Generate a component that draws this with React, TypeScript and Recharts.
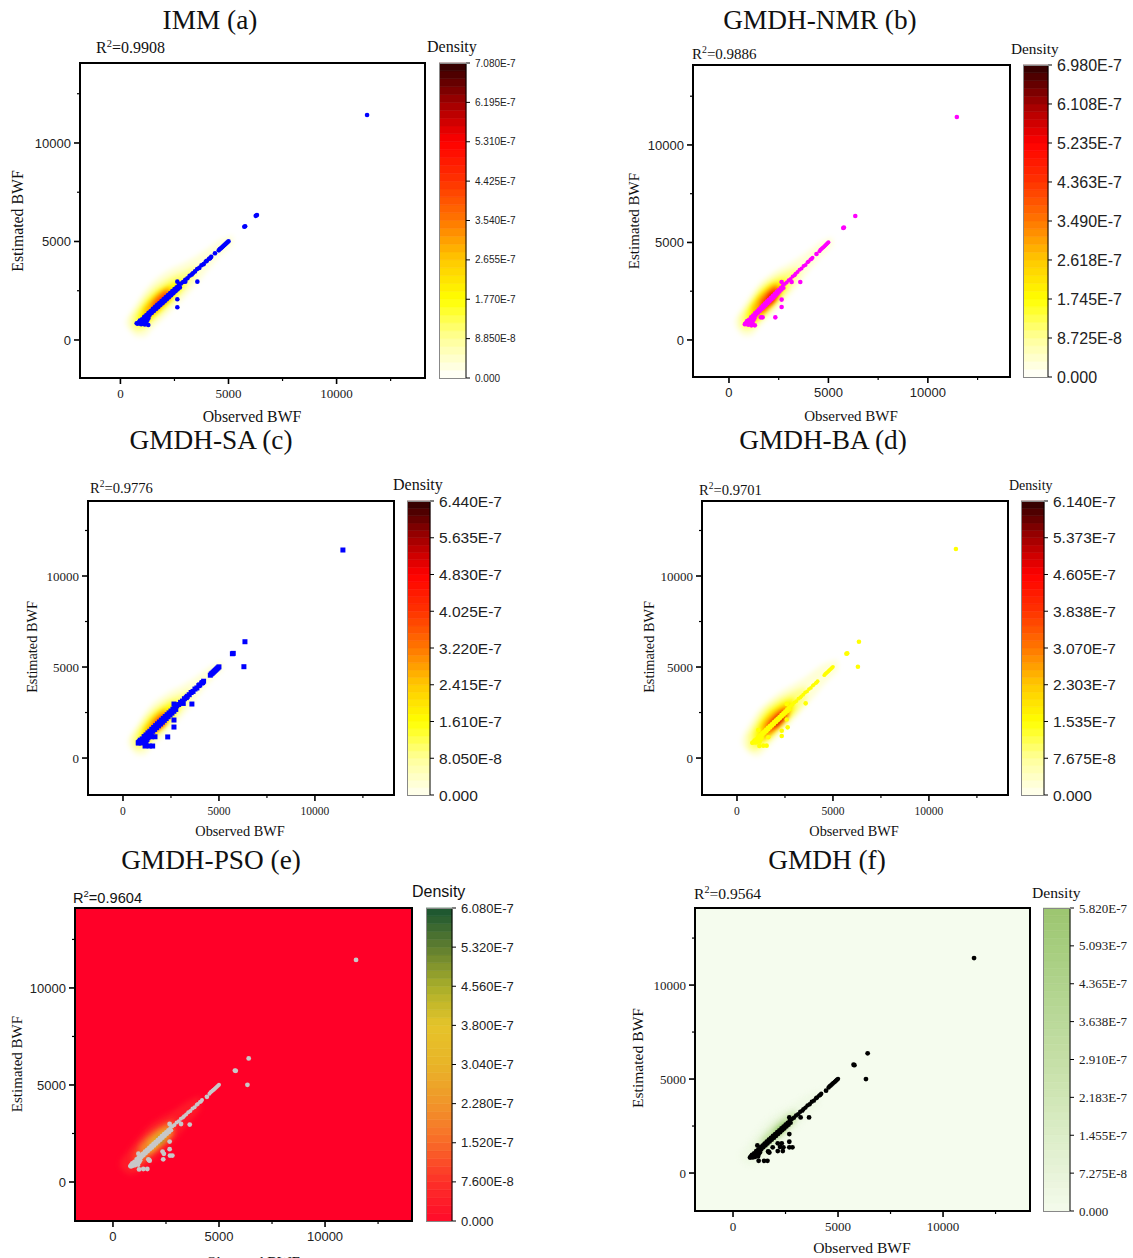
import { ComposedChart, BarChart, Bar, Area, Scatter, XAxis, YAxis, ReferenceArea } from 'recharts'

const SERIF = '"Liberation Serif", "Times New Roman", serif'
const SANS = '"Liberation Sans", Arial, sans-serif'

// points along the diagonal, shared by all six models
const ridgeObserved = [800, 850, 900, 950, 1000, 1050, 1100, 1150, 1200, 1250, 1300, 1350, 1400, 1450, 1500, 1550, 1600, 1650, 1700, 1750, 1800, 1850, 1900, 1950, 2000, 2050, 2100, 2150, 2200, 2250, 2300, 2350, 2400, 2450, 2500, 2550, 2600, 2650, 2700, 2750, 2800, 2900, 3000, 3100, 3200, 3300, 3350, 3450, 3550, 3650, 3750, 3850, 3950, 4000, 4100, 4150, 4200, 4550, 4600, 4650, 4700, 4750, 4800, 4850, 4900, 4950, 5000]
const ridgeEstimated = [830, 900, 980, 900, 1050, 1000, 1180, 1080, 1270, 1170, 1380, 1270, 1470, 1370, 1580, 1470, 1680, 1570, 1780, 1670, 1880, 1770, 1980, 1870, 2080, 1970, 2180, 2070, 2280, 2170, 2380, 2270, 2480, 2370, 2580, 2470, 2680, 2570, 2780, 2670, 2870, 2940, 3060, 3130, 3260, 3320, 3390, 3480, 3600, 3660, 3790, 3850, 3980, 4020, 4120, 4150, 4220, 4550, 4620, 4660, 4710, 4760, 4810, 4860, 4910, 4960, 5010]
// the crowded low end of the diagonal
const lowCluster = [[1050, 1000], [1150, 950], [1250, 1020], [1050, 850], [1200, 880], [950, 830], [1300, 1120]]

// [observed, estimated] away from the diagonal
const outliersA = [[11410, 11420], [2632, 2960], [3000, 2960], [3558, 2960], [2632, 2066], [2632, 1660], [4375, 4400], [5730, 5750], [5770, 5770], [6260, 6300], [6316, 6340], [752, 850], [960, 800], [1130, 790], [1290, 760]]
const outliersB = [[11457, 11436], [2647, 2974], [3150, 2974], [3585, 2974], [2647, 2070], [2647, 1690], [2330, 1160], [1690, 1160], [1600, 1160], [800, 803], [970, 780], [1130, 750], [1300, 750], [4400, 4410], [5745, 5740], [5780, 5770], [6350, 6360]]
const outliersC = [[11458, 11428], [2656, 2967], [3140, 3000], [3590, 2967], [2656, 2088], [2656, 1703], [1667, 1170], [1490, 1170], [2330, 1160], [1545, 660], [1370, 660], [1150, 660], [800, 840], [6300, 5018], [5745, 5750], [5700, 5730], [6354, 6390]]
const outliersD = [[11406, 11484], [2590, 2970], [3578, 3005], [2640, 1686], [2330, 1500], [2330, 1210], [1630, 1140], [1545, 680], [1370, 680], [1165, 660], [800, 840], [2590, 2120], [1111, 1540], [6300, 5016], [5745, 5750], [5700, 5730], [6354, 6390]]
const outliersE = [[11462, 11443], [2672, 2990], [3210, 2990], [3620, 2960], [2672, 2082], [2672, 1690], [2340, 1570], [2400, 1450], [2690, 1360], [2800, 1360], [2370, 1170], [1700, 1130], [1730, 1100], [1670, 1170], [1200, 1460], [1620, 670], [1430, 670], [1230, 650], [850, 800], [5790, 5730], [5750, 5740], [6340, 5010], [6400, 6370], [4430, 4390]]
const outliersF = [[11476, 11436], [2680, 2960], [3220, 2960], [3620, 2960], [2680, 2075], [2680, 1665], [2320, 1580], [2130, 1580], [1890, 1370], [2400, 1370], [2240, 1390], [2680, 1370], [2830, 1370], [2130, 1170], [2370, 1170], [1700, 1120], [1730, 1090], [1670, 1150], [1160, 1470], [1640, 650], [1480, 650], [1220, 650], [840, 830], [5780, 5740], [5740, 5760], [6330, 5000], [6410, 6370], [4430, 4380]]

// density contours: [share of colour scale, rows of [observed, low estimate, high estimate]]
const densityA = [
  [0.05, [[250, 800, 1000], [450, 450, 1350], [800, 150, 1950], [1100, 150, 2450], [1500, 600, 2950], [2000, 1100, 3400], [2500, 1650, 3700], [3000, 2200, 3950], [3500, 2800, 4250], [4000, 3500, 4600], [4500, 4150, 5000], [5200, 4850, 5300]]],
  [0.14, [[500, 700, 1150], [800, 450, 1600], [1100, 550, 2100], [1500, 950, 2600], [2000, 1450, 3000], [2500, 2000, 3300], [3000, 2600, 3500], [3500, 3300, 3750]]],
  [0.26, [[800, 750, 1250], [1100, 800, 1750], [1500, 1150, 2250], [2000, 1650, 2650], [2500, 2200, 2950], [2900, 2750, 3100]]],
  [0.42, [[1100, 950, 1550], [1400, 1250, 1950], [1800, 1650, 2400], [2300, 2200, 2700]]],
  [0.62, [[1500, 1450, 1820], [1900, 1850, 2280], [2250, 2200, 2500]]],
]
const densityB = [
  [0.05, [[300, 800, 1000], [450, 500, 1300], [800, 200, 1850], [1100, 200, 2300], [1500, 650, 2850], [2000, 1150, 3300], [2500, 1700, 3650], [3000, 2250, 3900], [3500, 2850, 4200], [4000, 3550, 4550], [4500, 4150, 4950], [5200, 4850, 5250]]],
  [0.14, [[550, 700, 1150], [850, 500, 1600], [1200, 600, 2150], [1600, 1050, 2700], [2000, 1450, 3050], [2500, 2000, 3350], [3000, 2600, 3550], [3500, 3300, 3750]]],
  [0.26, [[900, 750, 1400], [1200, 850, 1900], [1600, 1200, 2450], [2000, 1600, 2800], [2500, 2150, 3050], [2900, 2700, 3150]]],
  [0.42, [[1200, 950, 1650], [1500, 1200, 2150], [1900, 1600, 2550], [2400, 2150, 2900]]],
  [0.62, [[1600, 1350, 1950], [1900, 1650, 2300], [2200, 1950, 2600], [2500, 2300, 2750]]],
  [0.78, [[2000, 1800, 2250], [2250, 2100, 2450]]],
]
const densityC = [
  [0.05, [[280, 780, 1000], [450, 450, 1350], [800, 150, 1900], [1100, 150, 2400], [1500, 600, 2950], [2000, 1100, 3350], [2500, 1650, 3700], [3000, 2200, 3950], [3500, 2800, 4250], [4000, 3500, 4600], [4500, 4150, 5000], [5200, 4850, 5300]]],
  [0.14, [[500, 700, 1150], [800, 450, 1600], [1100, 550, 2100], [1500, 950, 2600], [2000, 1450, 3000], [2500, 2000, 3300], [3000, 2600, 3500], [3500, 3300, 3750]]],
  [0.26, [[850, 750, 1300], [1150, 800, 1800], [1500, 1150, 2250], [2000, 1650, 2700], [2500, 2200, 3000], [2900, 2750, 3100]]],
  [0.42, [[1150, 950, 1550], [1450, 1250, 2000], [1800, 1600, 2400], [2300, 2150, 2700]]],
  [0.62, [[1600, 1400, 1900], [1900, 1650, 2200], [2200, 1950, 2450]]],
  [0.78, [[1900, 1700, 1950], [2100, 1900, 2150]]],
]
const densityD = [
  [0.05, [[250, 800, 1050], [450, 450, 1500], [800, 150, 2100], [1100, 100, 2600], [1500, 450, 3000], [2000, 1050, 3450], [2500, 1550, 3800], [3000, 2150, 4100], [3500, 2750, 4400], [4000, 3350, 4800], [4500, 4000, 5150], [5250, 4800, 5400]]],
  [0.14, [[550, 650, 1250], [850, 400, 1750], [1150, 500, 2300], [1500, 800, 2750], [2000, 1300, 3150], [2500, 1850, 3450], [3000, 2400, 3700], [3600, 3150, 3950]]],
  [0.26, [[900, 650, 1400], [1200, 800, 1950], [1600, 1100, 2500], [2000, 1500, 2850], [2500, 2050, 3150], [3000, 2650, 3300]]],
  [0.42, [[1300, 1050, 1750], [1600, 1200, 2200], [1900, 1500, 2500], [2300, 1900, 2750], [2700, 2400, 2950]]],
  [0.62, [[1600, 1350, 1850], [1900, 1600, 2200], [2200, 1850, 2500], [2600, 2350, 2750]]],
  [0.85, [[1900, 1700, 1950], [2200, 1950, 2250], [2450, 2250, 2450]]],
]
const densityE = [
  [0.05, [[350, 750, 1100], [800, 400, 1750], [1200, 500, 2300], [1700, 950, 2900], [2300, 1500, 3350], [2900, 2150, 3700], [3500, 2950, 4150], [4100, 3700, 4450]]],
  [0.16, [[900, 700, 1450], [1200, 800, 1950], [1700, 1250, 2550], [2300, 1800, 3000], [2900, 2500, 3300]]],
  [0.32, [[1250, 1000, 1800], [1600, 1300, 2250], [2200, 1800, 2750], [2800, 2400, 3050]]],
  [0.5, [[1700, 1500, 2050], [2100, 1850, 2450], [2550, 2300, 2750]]],
  [0.9, [[2150, 1980, 2200], [2350, 2130, 2360]]],
]
const densityF = [
  [0.05, [[350, 750, 1050], [800, 400, 1700], [1200, 500, 2300], [1700, 1000, 2900], [2300, 1550, 3350], [2900, 2200, 3700], [3500, 2950, 4150], [4100, 3700, 4400]]],
  [0.18, [[1000, 750, 1450], [1400, 1000, 2050], [1900, 1500, 2650], [2500, 2100, 3150], [3000, 2750, 3400]]],
  [0.42, [[1400, 1250, 1800], [1900, 1700, 2350], [2500, 2300, 2900], [3000, 2850, 3250]]],
  [0.7, [[2000, 1900, 2250], [2500, 2400, 2750]]],
]

const labelsA = ['0.000', '8.850E-8', '1.770E-7', '2.655E-7', '3.540E-7', '4.425E-7', '5.310E-7', '6.195E-7', '7.080E-7']
const labelsB = ['0.000', '8.725E-8', '1.745E-7', '2.618E-7', '3.490E-7', '4.363E-7', '5.235E-7', '6.108E-7', '6.980E-7']
const labelsC = ['0.000', '8.050E-8', '1.610E-7', '2.415E-7', '3.220E-7', '4.025E-7', '4.830E-7', '5.635E-7', '6.440E-7']
const labelsD = ['0.000', '7.675E-8', '1.535E-7', '2.303E-7', '3.070E-7', '3.838E-7', '4.605E-7', '5.373E-7', '6.140E-7']
const labelsE = ['0.000', '7.600E-8', '1.520E-7', '2.280E-7', '3.040E-7', '3.800E-7', '4.560E-7', '5.320E-7', '6.080E-7']
const labelsF = ['0.000', '7.275E-8', '1.455E-7', '2.183E-7', '2.910E-7', '3.638E-7', '4.365E-7', '5.093E-7', '5.820E-7']

const heatRamp = ['#ffffff', '#ffff99', '#ffff00', '#ffc800', '#ff7700', '#ff3300', '#ff0000', '#a00000', '#2c0000']
const paleHeatRamp = ['#fffff2', '#ffff99', '#ffff00', '#ffc800', '#ff7700', '#ff3300', '#ff0000', '#a00000', '#2c0000']
const redGreenRamp = ['#ff0a2a', '#fd3028', '#f96a28', '#f1952a', '#e8b428', '#e6c42a', '#a8ae2a', '#5f7d30', '#185430']
const greenRamp = ['#f4fbec', '#e8f3d9', '#dcedc8', '#d0e6b6', '#c5dfa6', '#bad99a', '#b0d38c', '#a6cd7e', '#9cc56f']
const greenDensityRamp = ['#f5fcee', '#d8ecc0', '#b5da8e', '#7fbf58', '#4f9a38']

const xMajor = [0, 5000, 10000]
const xMinor = [2500, 7500, 12500]
const BINS = 40

const hex = (c: string) => [1, 3, 5].map(i => parseInt(c.slice(i, i + 2), 16))

function rampAt(stops: string[], t: number) {
  const p = Math.min(0.9999, Math.max(0, t)) * (stops.length - 1)
  const i = Math.floor(p)
  const a = hex(stops[i])
  const b = hex(stops[i + 1])
  const m = a.map((v, k) => Math.round(v + (b[k] - v) * (p - i)))
  return `rgb(${m[0]},${m[1]},${m[2]})`
}

const panels = [
  {
    id: 'a', title: 'IMM (a)', titleX: 210, titleY: 21, r2: '0.9908', r2X: 96, r2Y: 48, r2Font: SERIF, r2Size: 16,
    box: [80, 63, 425, 378], xDom: [-1870, 14090], yDom: [-1930, 14060],
    xFont: SERIF, yFont: SANS, xSize: 13, ySize: 13,
    xLabel: [252, 417], yLabel: [18, 221], axisSize: 15.8,
    outliers: outliersA, density: densityA, shape: 'circle', r: 2.3, ridgeR: 2.3, dot: '#0000ff', bg: '#ffffff', ramp: heatRamp, dens: heatRamp,
    bar: [439, 466], labels: labelsA, legendSize: 10, legendFont: SANS, densityPos: [427, 47], densityFont: SERIF, densitySize: 16,
  },
  {
    id: 'b', title: 'GMDH-NMR (b)', titleX: 820, titleY: 21, r2: '0.9886', r2X: 692, r2Y: 54, r2Font: SERIF, r2Size: 15,
    box: [693, 65, 1010, 377], xDom: [-1809, 14130], yDom: [-1900, 14100],
    xFont: SANS, yFont: SANS, xSize: 13, ySize: 13,
    xLabel: [851, 416], yLabel: [634, 221], axisSize: 15,
    outliers: outliersB, density: densityB, shape: 'circle', r: 2.3, ridgeR: 2, dot: '#ff00ff', bg: '#ffffff', ramp: heatRamp, dens: heatRamp,
    bar: [1023, 1048], labels: labelsB, legendSize: 16, legendFont: SANS, densityPos: [1011, 49], densityFont: SERIF, densitySize: 15.3,
  },
  {
    id: 'c', title: 'GMDH-SA (c)', titleX: 211, titleY: 441, r2: '0.9776', r2X: 90, r2Y: 488, r2Font: SERIF, r2Size: 14.6,
    box: [88, 501, 394, 795], xDom: [-1823, 14120], yDom: [-2030, 14120],
    xFont: SERIF, yFont: SERIF, xSize: 11.5, ySize: 13,
    xLabel: [240, 831], yLabel: [32, 647], axisSize: 14.3,
    outliers: outliersC, density: densityC, shape: 'square', r: 2.5, ridgeR: 2.5, dot: '#0000ff', bg: '#ffffff', ramp: paleHeatRamp, dens: heatRamp,
    bar: [407, 430], labels: labelsC, legendSize: 15.5, legendFont: SANS, densityPos: [393, 485], densityFont: SERIF, densitySize: 16,
  },
  {
    id: 'd', title: 'GMDH-BA (d)', titleX: 823, titleY: 441, r2: '0.9701', r2X: 699, r2Y: 490, r2Font: SERIF, r2Size: 14.6,
    box: [702, 501, 1008, 795], xDom: [-1823, 14120], yDom: [-2030, 14120],
    xFont: SERIF, yFont: SERIF, xSize: 11.5, ySize: 13,
    xLabel: [854, 831], yLabel: [649, 647], axisSize: 14.3,
    outliers: outliersD, density: densityD, shape: 'circle', r: 2.3, ridgeR: 1.9, dot: '#ffff00', bg: '#ffffff', ramp: paleHeatRamp, dens: heatRamp,
    bar: [1021, 1044], labels: labelsD, legendSize: 15.5, legendFont: SANS, densityPos: [1009, 486], densityFont: SERIF, densitySize: 14,
  },
  {
    id: 'e', title: 'GMDH-PSO (e)', titleX: 211, titleY: 861, r2: '0.9604', r2X: 73, r2Y: 898, r2Font: SANS, r2Size: 14.6,
    box: [75, 908, 412, 1221], xDom: [-1790, 14100], yDom: [-2010, 14120],
    xFont: SANS, yFont: SANS, xSize: 13, ySize: 13,
    xLabel: [253, 1262], yLabel: [17, 1064], axisSize: 15,
    outliers: outliersE, density: densityE, shape: 'circle', r: 2.4, ridgeR: 2, dot: '#c8c8c8', bg: '#ff0028', ramp: redGreenRamp, dens: redGreenRamp,
    bar: [426, 452], labels: labelsE, legendSize: 13, legendFont: SANS, densityPos: [412, 892], densityFont: SANS, densitySize: 16,
  },
  {
    id: 'f', title: 'GMDH (f)', titleX: 827, titleY: 861, r2: '0.9564', r2X: 694, r2Y: 894, r2Font: SERIF, r2Size: 15.6,
    box: [695, 908, 1030, 1211], xDom: [-1810, 14140], yDom: [-2020, 14100],
    xFont: SERIF, yFont: SERIF, xSize: 13, ySize: 13,
    xLabel: [862, 1248], yLabel: [638, 1058], axisSize: 15.6,
    outliers: outliersF, density: densityF, shape: 'circle', r: 2.4, ridgeR: 2.2, dot: '#000000', bg: '#f5fcee', ramp: greenRamp, dens: greenDensityRamp,
    bar: [1043, 1070], labels: labelsF, legendSize: 13, legendFont: SERIF, densityPos: [1032, 893], densityFont: SERIF, densitySize: 15.6,
  },
]

function XTick({ x, y, payload, font, size }: any) {
  const major = xMajor.includes(payload.value)
  return (
    <g>
      <line x1={x} x2={x} y1={y} y2={y + (major ? 6 : 3)} stroke="#000" strokeWidth={major ? 1.6 : 1.2} />
      {major && <text x={x} y={y + 20} textAnchor="middle" fontFamily={font} fontSize={size} fill="#222">{payload.value}</text>}
    </g>
  )
}

function YTick({ x, y, payload, font, size }: any) {
  const major = xMajor.includes(payload.value)
  return (
    <g>
      <line x1={x - (major ? 6 : 3)} x2={x} y1={y} y2={y} stroke="#000" strokeWidth={major ? 1.6 : 1.2} />
      {major && <text x={x - 9} y={y + size * 0.36} textAnchor="end" fontFamily={font} fontSize={size} fill="#222">{payload.value}</text>}
    </g>
  )
}

function Dot({ cx, cy, kind, r, color }: any) {
  if (kind === 'square') return <rect x={cx - r} y={cy - r} width={r * 2} height={r * 2} fill={color} />
  return <circle cx={cx} cy={cy} r={r} fill={color} />
}

function Plot({ p }: any) {
  const [l, t, r, b] = p.box
  const ticks = [...xMajor, ...xMinor].sort((m, n) => m - n)
  const ridge = [
    ...ridgeObserved.map((v, i) => ({ x: v, y: ridgeEstimated[i] })),
    ...lowCluster.map(([x, y]) => ({ x, y })),
  ]
  const off = p.outliers.map(([x, y]: number[]) => ({ x, y }))
  return (
    <div style={{ position: 'absolute', left: l - 70, top: t - 10, width: r - l + 80, height: b - t + 50 }}>
      <ComposedChart width={r - l + 80} height={b - t + 50} margin={{ top: 10, right: 10, bottom: 0, left: 0 }}>
        <XAxis type="number" dataKey="x" domain={p.xDom} ticks={ticks} allowDataOverflow interval={0} height={40} axisLine={false} tickLine={false} tickSize={0} tickMargin={0} tick={<XTick font={p.xFont} size={p.xSize} />} />
        <YAxis type="number" dataKey="y" domain={p.yDom} ticks={ticks} allowDataOverflow interval={0} width={70} axisLine={false} tickLine={false} tickSize={0} tickMargin={0} tick={<YTick font={p.yFont} size={p.ySize} />} />
        <ReferenceArea x1={p.xDom[0]} x2={p.xDom[1]} y1={p.yDom[0]} y2={p.yDom[1]} fill={p.bg} fillOpacity={1} stroke="none" />
        {p.density.map(([level, rows]: any, i: number) => (
          <Area
            key={i}
            data={rows.map((row: number[]) => ({ x: row[0], band: [row[1], row[2]] }))}
            dataKey="band"
            type="monotone"
            stroke="none"
            fill={rampAt(p.dens, level)}
            fillOpacity={1}
            style={{ filter: 'blur(2.5px)' }}
            dot={false}
            activeDot={false}
            isAnimationActive={false}
          />
        ))}
        <Scatter data={ridge} isAnimationActive={false} shape={<Dot kind={p.shape} r={p.ridgeR} color={p.dot} />} />
        <Scatter data={off} isAnimationActive={false} shape={<Dot kind={p.shape} r={p.r} color={p.dot} />} />
        <ReferenceArea x1={p.xDom[0]} x2={p.xDom[1]} y1={p.yDom[0]} y2={p.yDom[1]} fill="none" stroke="#000" strokeWidth={2} />
      </ComposedChart>
    </div>
  )
}

function ColorBar({ p }: any) {
  const [, t, , b] = p.box
  const [bl, br] = p.bar
  const max = parseFloat(p.labels[8])
  const tickValues = p.labels.map((s: string) => parseFloat(s))
  const row: any = { name: 'density' }
  for (let i = 0; i < BINS; i++) row[`b${i}`] = max / BINS
  const width = br - bl + 90
  return (
    <div style={{ position: 'absolute', left: bl, top: t - 10, width, height: b - t + 20 }}>
      <BarChart width={width} height={b - t + 20} data={[row]} margin={{ top: 10, right: 0, bottom: 10, left: 0 }} barCategoryGap={0}>
        <XAxis dataKey="name" hide />
        <YAxis
          orientation="right"
          type="number"
          domain={[0, max]}
          ticks={tickValues}
          interval={0}
          width={90}
          axisLine={{ stroke: '#000' }}
          tickLine={{ stroke: '#000' }}
          tickSize={4}
          tickMargin={5}
          tickFormatter={(v: number) => p.labels[tickValues.indexOf(v)]}
          tick={{ fontFamily: p.legendFont, fontSize: p.legendSize, fill: '#222' }}
        />
        {Array.from({ length: BINS }, (_, i) => {
          const c = rampAt(p.ramp, (i + 0.5) / BINS)
          return <Bar key={i} dataKey={`b${i}`} stackId="d" fill={c} stroke={c} strokeWidth={0.6} isAnimationActive={false} />
        })}
      </BarChart>
      <div style={{ position: 'absolute', left: 0, top: 10, width: br - bl, height: b - t - 1, borderLeft: '1px solid #888', borderTop: '1px solid #888', borderBottom: '1px solid #888' }} />
    </div>
  )
}

function Texts({ p }: any) {
  const base: any = { position: 'absolute', whiteSpace: 'nowrap', color: '#111', lineHeight: 1 }
  return (
    <>
      <div style={{ ...base, left: p.titleX, top: p.titleY, transform: 'translate(-50%,-50%)', fontFamily: SERIF, fontSize: 27.3 }}>{p.title}</div>
      <div style={{ ...base, left: p.r2X, top: p.r2Y - p.r2Size / 2, fontFamily: p.r2Font, fontSize: p.r2Size }}>R<sup style={{ fontSize: '0.65em', lineHeight: 0 }}>2</sup>=0.{p.r2.slice(2)}</div>
      <div style={{ ...base, left: p.xLabel[0], top: p.xLabel[1], transform: 'translate(-50%,-50%)', fontFamily: SERIF, fontSize: p.axisSize }}>Observed BWF</div>
      <div style={{ ...base, left: p.yLabel[0], top: p.yLabel[1], transform: 'translate(-50%,-50%) rotate(-90deg)', fontFamily: SERIF, fontSize: p.axisSize }}>Estimated BWF</div>
      <div style={{ ...base, left: p.densityPos[0], top: p.densityPos[1] - p.densitySize / 2, fontFamily: p.densityFont, fontSize: p.densitySize }}>Density</div>
    </>
  )
}

export default function App() {
  return (
    <div style={{ position: 'absolute', left: 0, top: 0, width: 1133, height: 1258, overflow: 'hidden', background: '#fff' }}>
      {panels.map(p => (
        <div key={p.id}>
          <Plot p={p} />
          <ColorBar p={p} />
          <Texts p={p} />
        </div>
      ))}
    </div>
  )
}
